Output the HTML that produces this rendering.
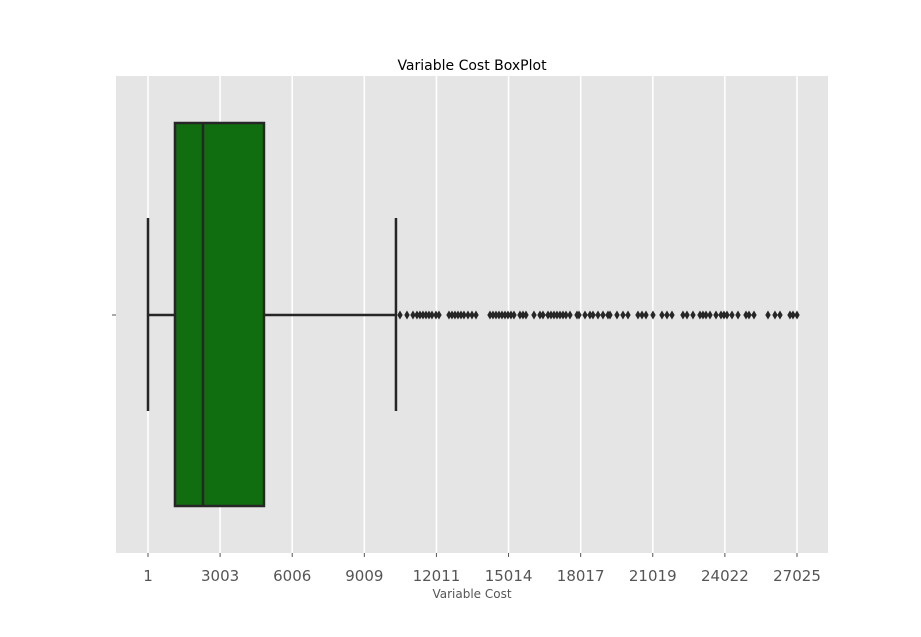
<!DOCTYPE html>
<html><head><meta charset="utf-8"><style>
body{margin:0;background:#fff;font-family:"DejaVu Sans",sans-serif}
svg text{font-family:"DejaVu Sans","Liberation Sans",sans-serif}
</style></head><body>
<svg id="chart" width="921" height="633" xmlns="http://www.w3.org/2000/svg">
<rect x="116" y="76" width="712" height="477" fill="#e5e5e5"/>
<g id="grid"></g>
<g id="ticks"></g>
<line x1="112" y1="315" x2="116" y2="315" stroke="#555" stroke-width="1"/>
<g id="box"></g>
<text x="472" y="70" font-size="14" text-anchor="middle" fill="#000">Variable Cost BoxPlot</text>
<text x="472" y="598" font-size="12" text-anchor="middle" fill="#555">Variable Cost</text>
</svg>
<script>
const tickValues=[1,3003,6006,9009,12011,15014,18017,21019,24022,27025];
const tickLabels=["1","3003","6006","9009","12011","15014","18017","21019","24022","27025"];
const whiskerLow=[1];
const q1=[1124];
const median=[2290];
const q3=[4830];
const whiskerHigh=[10326];
const outliers=[10493,10785,11035,11201,11326,11451,11576,11701,11826,11992,12117,12534,12659,12783,12908,13033,13158,13325,13491,13658,14241,14366,14491,14616,14741,14866,14990,15115,15240,15490,15615,15740,16073,16323,16448,16656,16781,16906,17031,17156,17281,17406,17572,17864,17947,18197,18405,18530,18738,18946,19154,19238,19529,19779,19987,20404,20570,20737,21028,21403,21611,21819,22277,22444,22694,22985,23110,23235,23402,23652,23860,23985,24110,24318,24568,24901,25026,25234,25817,26108,26316,26733,26858,27025];
const NS="http://www.w3.org/2000/svg";
function xs(v){return 148+(v-1)*(797-148)/(27025-1);}
function mk(tag,attrs,parent){const e=document.createElementNS(NS,tag);for(const k in attrs)e.setAttribute(k,attrs[k]);parent.appendChild(e);return e;}
const grid=document.getElementById('grid'),ticks=document.getElementById('ticks'),box=document.getElementById('box');
tickValues.forEach((v,i)=>{
 const g=mk('line',{x1:xs(v),x2:xs(v),y1:76,y2:553,stroke:'#fff','stroke-width':1.6},grid);
 
 
 const t=mk('line',{x1:xs(v),x2:xs(v),y1:553,y2:557,stroke:'#555'},ticks);
 
 
 const l=mk('text',{x:xs(v),y:581,'font-size':15,'text-anchor':'middle',fill:'#555'},ticks);
 l.textContent=tickLabels[i];
 
 
});
const cy=315,st='#262626',sw=2.5;
let e;
e=mk('line',{x1:xs(whiskerLow[0]),x2:xs(q1[0]),y1:cy,y2:cy,stroke:st,'stroke-width':sw},box);


e=mk('line',{x1:xs(q3[0]),x2:xs(whiskerHigh[0]),y1:cy,y2:cy,stroke:st,'stroke-width':sw},box);


e=mk('line',{x1:xs(whiskerLow[0]),x2:xs(whiskerLow[0]),y1:218,y2:411,stroke:st,'stroke-width':sw},box);


e=mk('line',{x1:xs(whiskerHigh[0]),x2:xs(whiskerHigh[0]),y1:218,y2:411,stroke:st,'stroke-width':sw},box);


e=mk('rect',{x:xs(q1[0]),y:123,width:xs(q3[0])-xs(q1[0]),height:383,fill:'#106e10',stroke:st,'stroke-width':sw},box);


e=mk('line',{x1:xs(median[0]),x2:xs(median[0]),y1:123,y2:506,stroke:st,'stroke-width':sw},box);


outliers.forEach(v=>{
 const x=xs(v);
 const p=mk('polygon',{points:`${x},${cy-4.5} ${x+2.7},${cy} ${x},${cy+4.5} ${x-2.7},${cy}`,fill:st},box);
 
 
});
</script>
</body></html>
